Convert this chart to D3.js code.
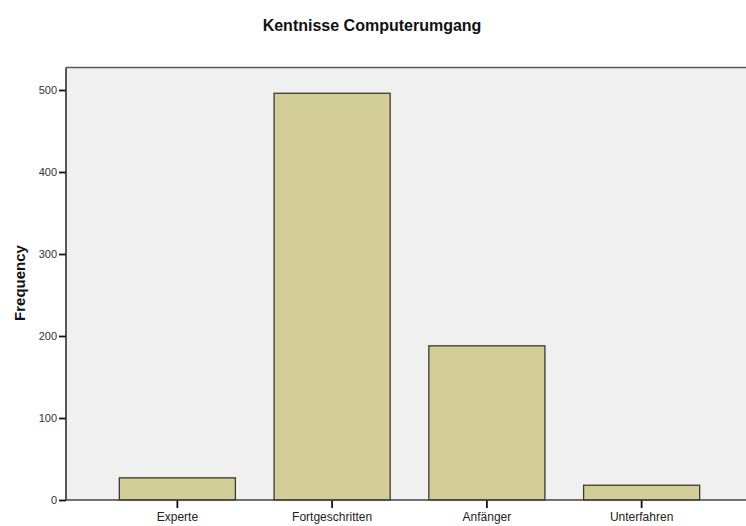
<!DOCTYPE html>
<html><head><meta charset="utf-8">
<script src="https://cdn.jsdelivr.net/npm/d3@7"></script>
<style>body{margin:0;background:#fff;}svg{display:block;font-family:Arial,"Liberation Sans",sans-serif;}</style>
</head><body><div id="c"></div>
<script>
const categories = ["Experte", "Fortgeschritten", "Anfänger", "Unterfahren"];
const frequencies = [27, 496, 188, 18];
const yTicks = [0, 100, 200, 300, 400, 500];
const title = "Kentnisse Computerumgang";
const yLabel = "Frequency";

const W = 746, H = 526;
const plot = {left: 66, top: 67.5, right: 746, bottom: 500};
const svg = d3.select("#c").append("svg").attr("width", W).attr("height", H);

const x = d3.scaleBand().domain(categories).range([100, 719]).paddingInner(0.25).paddingOuter(0.125);
const y = d3.scaleLinear().domain([0, 500]).range([500, 90]);

svg.append("rect").attr("x", plot.left).attr("y", plot.top)
  .attr("width", plot.right - plot.left).attr("height", plot.bottom - plot.top)
  .attr("fill", "#f0f0f0");

svg.selectAll("rect.bar").data(frequencies).join("rect").attr("class", "bar")
  .attr("x", (d, i) => x(categories[i]))
  .attr("y", d => y(d))
  .attr("width", x.bandwidth())
  .attr("height", d => y(0) - y(d))
  .attr("fill", "#d3ce97").attr("stroke", "#3a3a30").attr("stroke-width", 1.3);

// top border
svg.append("line").attr("x1", plot.left).attr("x2", plot.right).attr("y1", plot.top).attr("y2", plot.top)
  .attr("stroke", "#5a5a5a").attr("stroke-width", 1.5);

const yAxis = svg.append("g").attr("transform", `translate(${plot.left},0)`)
  .call(d3.axisLeft(y).tickValues(yTicks).tickSize(7).tickPadding(2).tickFormat(d3.format("d")));
yAxis.select(".domain").remove();
yAxis.append("line").attr("x1", 0).attr("x2", 0).attr("y1", plot.top).attr("y2", plot.bottom)
  .attr("stroke", "#222").attr("stroke-width", 1.5);
yAxis.selectAll(".tick line").attr("stroke", "#111").attr("stroke-width", 1.8);
yAxis.selectAll(".tick text").attr("fill", "#333").attr("font-size", "11px")
  .attr("font-family", "Arial, 'Liberation Sans', sans-serif");

const xAxis = svg.append("g").attr("transform", `translate(0,${plot.bottom})`)
  .call(d3.axisBottom(x).tickSize(8).tickPadding(4));
xAxis.select(".domain").remove();
xAxis.append("line").attr("x1", plot.left).attr("x2", plot.right).attr("y1", 0).attr("y2", 0)
  .attr("stroke", "#444").attr("stroke-width", 1.5);
xAxis.selectAll(".tick line").attr("stroke", "#111").attr("stroke-width", 1.8);
xAxis.selectAll(".tick text").attr("fill", "#222").attr("font-size", "12px")
  .attr("font-family", "Arial, 'Liberation Sans', sans-serif");

svg.append("text").attr("x", 372).attr("y", 31).attr("text-anchor", "middle")
  .attr("font-size", "16px").attr("font-weight", "bold").attr("fill", "#111").text(title);

svg.append("text").attr("transform", "translate(25,283) rotate(-90)").attr("text-anchor", "middle")
  .attr("font-size", "15px").attr("font-weight", "bold").attr("fill", "#111").text(yLabel);
</script></body></html>
